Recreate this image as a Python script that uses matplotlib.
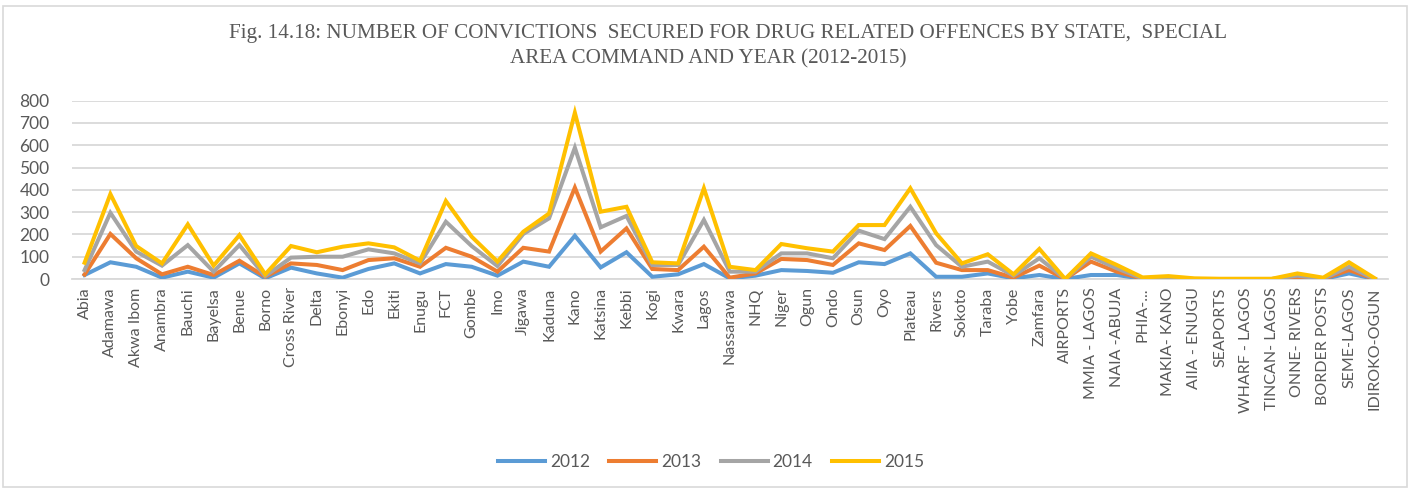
import numpy as np
import matplotlib.pyplot as plt
from matplotlib.patches import Rectangle

# convictions per state / special area command, stacked by year (running totals as drawn)
states = ['Abia', 'Adamawa', 'Akwa Ibom', 'Anambra', 'Bauchi', 'Bayelsa', 'Benue', 'Borno',
          'Cross River', 'Delta', 'Ebonyi', 'Edo', 'Ekiti', 'Enugu', 'FCT', 'Gombe', 'Imo',
          'Jigawa', 'Kaduna', 'Kano', 'Katsina', 'Kebbi', 'Kogi', 'Kwara', 'Lagos',
          'Nassarawa', 'NHQ', 'Niger', 'Ogun', 'Ondo', 'Osun', 'Oyo', 'Plateau', 'Rivers',
          'Sokoto', 'Taraba', 'Yobe', 'Zamfara', 'AIRPORTS', 'MMIA - LAGOS', 'NAIA -ABUJA',
          'PHIA-...', 'MAKIA- KANO', 'AIIA - ENUGU', 'SEAPORTS', 'WHARF - LAGOS',
          'TINCAN- LAGOS', 'ONNE- RIVERS', 'BORDER POSTS', 'SEME-LAGOS', 'IDIROKO-OGUN']

y2012 = [18, 75, 55, 6, 33, 6, 70, 3, 51, 25, 6, 45, 70, 25, 67, 55, 15, 78, 55, 194,
         52, 120, 10, 21, 67, 3, 15, 40, 36, 28, 75, 67, 115, 10, 10, 25, 3, 18, 0, 18,
         18, 1, 0, 0, 0, 0, 0, 0, 0, 25, 0]
y2013 = [20, 202, 93, 21, 55, 18, 82, 10, 70, 63, 40, 85, 93, 55, 140, 100, 33, 140, 123, 410,
         123, 227, 45, 40, 145, 6, 25, 90, 85, 63, 160, 130, 238, 73, 40, 40, 6, 60, 0, 78,
         33, 1, 3, 0, 0, 0, 0, 7, 0, 40, 0]
y2014 = [40, 297, 123, 60, 152, 33, 152, 13, 96, 100, 100, 133, 115, 70, 257, 148, 58, 202, 272, 589,
         232, 283, 63, 63, 265, 33, 33, 115, 115, 93, 217, 179, 324, 152, 55, 78, 15, 93, 0, 100,
         48, 2, 7, 0, 0, 0, 0, 15, 1, 55, 0]
y2015 = [73, 381, 148, 70, 245, 60, 197, 21, 148, 120, 145, 160, 142, 82, 350, 190, 78, 212, 294, 746,
         302, 324, 75, 70, 407, 55, 40, 157, 138, 123, 242, 242, 407, 205, 70, 111, 21, 135, 0, 115,
         63, 7, 13, 3, 1, 1, 1, 25, 6, 75, 3]

years = ['2012', '2013', '2014', '2015']
colors = ['#5B9BD5', '#ED7D31', '#A5A5A5', '#FFC000']
yticks = [0, 100, 200, 300, 400, 500, 600, 700, 800]

TEXT = '#595959'
GRID = '#D9D9D9'

fig = plt.figure(figsize=(14.11, 4.9), dpi=100)
ax = fig.add_axes([0.0508, 0.4306, 0.9327, 0.3639])

x = np.arange(len(states))
for vals, yr, c in zip([y2012, y2013, y2014, y2015], years, colors):
    ax.plot(x, vals, color=c, lw=2.9, label=yr, solid_joinstyle='miter', zorder=3)

ax.set_xlim(-0.5, len(states) - 0.5)
ax.set_ylim(0, 800)
ax.set_yticks(yticks)
ax.set_xticks(x)
ax.set_xticklabels(states, rotation=90, fontsize=11.5, color=TEXT, family='Lato')
ax.tick_params(axis='both', length=0, colors=TEXT)
ax.tick_params(axis='y', labelsize=12.5, pad=16)
ax.tick_params(axis='x', pad=6)
for lab in ax.get_yticklabels():
    lab.set_family('Lato')
ax.grid(axis='y', color=GRID, lw=1.3)
ax.set_axisbelow(True)
for s in ['top', 'right', 'left']:
    ax.spines[s].set_visible(False)
ax.spines['bottom'].set_color(GRID)
ax.spines['bottom'].set_linewidth(1.3)

fig.text(0.516, 0.932, 'Fig. 14.18: NUMBER OF CONVICTIONS  SECURED FOR DRUG RELATED OFFENCES BY STATE,  SPECIAL',
         ha='center', va='center', fontsize=15.2, color=TEXT, family='Liberation Serif')
fig.text(0.502, 0.880, 'AREA COMMAND AND YEAR (2012-2015)',
         ha='center', va='center', fontsize=15.2, color=TEXT, family='Liberation Serif')

leg = fig.legend(loc='center', bbox_to_anchor=(0.504, 0.057), ncol=4, frameon=False,
                 handlelength=2.7, columnspacing=1.1, handletextpad=0.3,
                 prop={'family': 'Lato', 'size': 12.5})
for t in leg.get_texts():
    t.set_color(TEXT)

# thin chart frame
fig.patches.append(Rectangle((0.002, 0.006), 0.995, 0.982, transform=fig.transFigure,
                             fill=False, edgecolor=GRID, lw=1.2))

fig.savefig('out.png', dpi=100)
